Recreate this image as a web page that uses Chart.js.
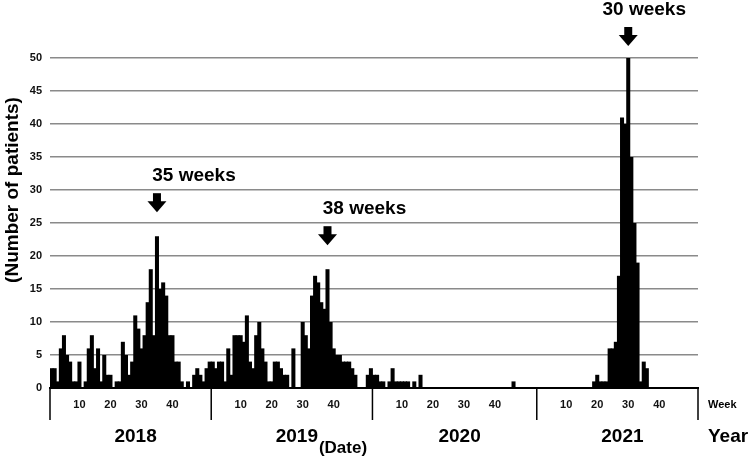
<!DOCTYPE html>
<html>
<head>
<meta charset="utf-8">
<script src="https://cdn.jsdelivr.net/npm/chart.js@4.4.1/dist/chart.umd.min.js"></script>
<style>
  html, body { margin: 0; padding: 0; background: #fff; }
  #wrap { width: 750px; height: 456px; }
</style>
</head>
<body>
<div id="wrap"><canvas id="weeklyChart"></canvas></div>
<script>
// Weekly patient counts
const years = ["2018", "2019", "2020", "2021"];
const weekTicks = [10, 20, 30, 40];

const cases2018 = [3, 3, 1, 6, 8, 5, 4, 1, 1, 4, 0, 1, 6, 8, 3, 6, 1, 5, 2, 2, 0, 1, 1, 7, 5, 2,
  4, 11, 9, 6, 8, 13, 18, 8, 23, 15, 16, 14, 8, 8, 4, 4, 1, 0, 1, 0, 2, 3, 2, 1, 3, 4];
const cases2019 = [4, 3, 4, 4, 1, 6, 2, 8, 8, 8, 7, 11, 4, 3, 8, 10, 6, 4, 1, 1, 4, 4, 3, 2, 2, 0,
  6, 0, 0, 10, 8, 6, 14, 17, 16, 13, 12, 18, 10, 6, 5, 5, 4, 4, 4, 3, 2, 0, 0, 0, 2, 3];
// 2020 has 53 weeks
const cases2020 = [2, 2, 1, 1, 0, 1, 3, 1, 1, 1, 1, 1, 0, 1, 0, 2, 0, 0, 0, 0, 0, 0, 0, 0, 0, 0,
  0, 0, 0, 0, 0, 0, 0, 0, 0, 0, 0, 0, 0, 0, 0, 0, 0, 0, 0, 1, 0, 0, 0, 0, 0, 0, 0];
const cases2021 = [0, 0, 0, 0, 0, 0, 0, 0, 0, 0, 0, 0, 0, 0, 0, 0, 0, 0, 1, 2, 1, 1, 1, 6, 6, 7,
  17, 41, 40, 50, 35, 25, 19, 1, 4, 3, 0, 0, 0, 0, 0, 0, 0, 0, 0, 0, 0, 0, 0, 0, 0, 0];

// peak call-outs
const peakYears = ["2018", "2019", "2021"];
const peakWeeks = [35, 38, 30];
const peakLabels = ["35 weeks", "38 weeks", "30 weeks"];

// flatten into one category axis
const seriesByYear = [cases2018, cases2019, cases2020, cases2021];
const labels = [];
const values = [];
const weekOf = [];
const yearStart = [];
seriesByYear.forEach((arr, yi) => {
  yearStart.push(values.length);
  arr.forEach((v, wi) => {
    labels.push(years[yi] + " W" + (wi + 1));
    values.push(v);
    weekOf.push(wi + 1);
  });
});
yearStart.push(values.length);

const FONT = "'Liberation Sans', Arial, sans-serif";
Chart.defaults.font.family = FONT;

// Draws year brackets, axis titles and the peak arrows
const annotate = {
  id: "annotate",
  afterDraw(chart) {
    const { ctx, chartArea: area } = chart;
    const x = chart.scales.x;
    const y = chart.scales.y;
    ctx.save();
    ctx.fillStyle = "#000";
    ctx.strokeStyle = "#000";

    // year separators below the axis
    ctx.lineWidth = 1.5;
    yearStart.forEach((idx) => {
      const px = x.getPixelForValue(idx - 0.5);
      ctx.beginPath();
      ctx.moveTo(px, area.bottom);
      ctx.lineTo(px, area.bottom + 32);
      ctx.stroke();
    });

    // year labels
    ctx.textBaseline = "middle";
    ctx.textAlign = "center";
    ctx.font = "bold 19px " + FONT;
    years.forEach((yr, i) => {
      const a = x.getPixelForValue(yearStart[i] - 0.5);
      const b = x.getPixelForValue(yearStart[i + 1] - 0.5);
      ctx.fillText(yr, (a + b) / 2 + 5, 437);
    });

    ctx.textAlign = "left";
    ctx.font = "bold 11px " + FONT;
    ctx.fillText("Week", 708, 405);
    ctx.font = "bold 19px " + FONT;
    ctx.fillText("Year", 708, 437);

    ctx.textAlign = "center";
    ctx.font = "bold 17px " + FONT;
    ctx.fillText("(Date)", 343, 448);

    // y title
    ctx.save();
    ctx.translate(13, 190);
    ctx.rotate(-Math.PI / 2);
    ctx.font = "bold 19px " + FONT;
    ctx.fillText("(Number of patients)", 0, 0);
    ctx.restore();

    // peak arrows
    peakYears.forEach((yr, i) => {
      const idx = yearStart[years.indexOf(yr)] + peakWeeks[i] - 1;
      const cx = x.getPixelForValue(idx);
      const top = y.getPixelForValue(values[idx]);
      const clamped = top - 24 < area.top - 12;
      const tip = clamped ? area.top - 12 : top - 24;

      ctx.beginPath();
      ctx.moveTo(cx - 9.5, tip - 11);
      ctx.lineTo(cx + 9.5, tip - 11);
      ctx.lineTo(cx, tip);
      ctx.closePath();
      ctx.fill();
      ctx.fillRect(cx - 4, tip - 19, 8, 9);

      ctx.font = "bold 19px " + FONT;
      ctx.textAlign = "center";
      ctx.fillText(peakLabels[i], cx + (clamped ? 16 : 37), tip - 36);
    });

    ctx.restore();
  },
};

new Chart(document.getElementById("weeklyChart"), {
  type: "bar",
  data: {
    labels: labels,
    datasets: [
      {
        data: values,
        backgroundColor: "#000",
        borderWidth: 0,
        barPercentage: 1.3,
        categoryPercentage: 1,
      },
    ],
  },
  options: {
    responsive: true,
    maintainAspectRatio: false,
    animation: false,
    layout: { padding: { top: 58, right: 52, left: 0, bottom: 0 } },
    plugins: {
      legend: { display: false },
      tooltip: { enabled: false },
    },
    scales: {
      x: {
        grid: { display: false, drawTicks: false },
        border: { display: true, color: "#000", width: 2 },
        ticks: {
          autoSkip: false,
          maxRotation: 0,
          padding: 10,
          color: "#111",
          font: { size: 11, weight: "bold" },
          callback: (val, i) => (weekTicks.includes(weekOf[i]) ? String(weekOf[i]) : ""),
        },
        afterFit: (scale) => {
          scale.height = 68;
        },
      },
      y: {
        min: 0,
        max: 50,
        grid: {
          drawTicks: false,
          lineWidth: 1.5,
          color: (c) => (c.tick.value === 0 ? "rgba(0,0,0,0)" : "#8a8a8a"),
        },
        border: { display: false },
        ticks: {
          stepSize: 5,
          padding: 8,
          color: "#111",
          font: { size: 11, weight: "bold" },
        },
        afterFit: (scale) => {
          scale.width = 50;
        },
      },
    },
  },
  plugins: [annotate],
});
</script>
</body>
</html>
